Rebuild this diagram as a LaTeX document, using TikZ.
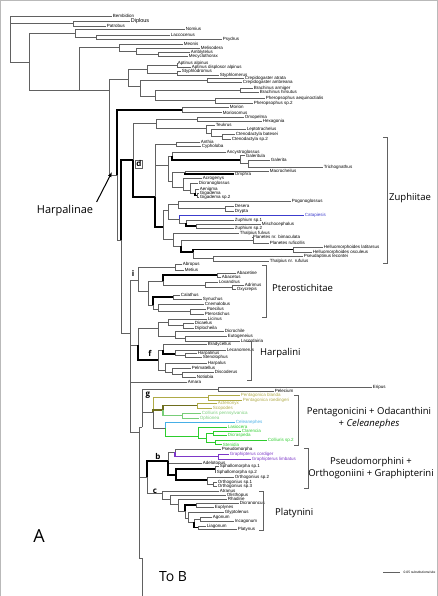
\documentclass[tikz,border=0pt]{standalone}
\usepackage{fontspec}
\setmainfont{Liberation Sans}
\newfontfamily\labfont{Open Sans}
\usetikzlibrary{arrows.meta}

\definecolor{brgray}{gray}{0.38}
\definecolor{olv}{RGB}{175,170,70}
\definecolor{dolv}{RGB}{110,110,30}
\definecolor{lgr}{RGB}{120,205,120}
\definecolor{cyn}{RGB}{70,175,230}
\definecolor{grn}{RGB}{45,205,45}
\definecolor{prp}{RGB}{125,55,200}
\definecolor{blu}{RGB}{60,60,205}

\newcommand\leaf{\fontsize{4.5}{5}\selectfont}

\begin{document}
\begin{tikzpicture}[x=1pt,y=-1pt,
  tx/.style={anchor=west,inner sep=0.7pt,font=\leaf},
  br/.style={draw=brgray,line width=0.7pt,to path={|- (\tikztotarget)}},
  bk/.style={draw=black,line width=1.5pt},
  ol/.style={draw=olv},
  dol/.style={draw=dolv,line width=1.3pt},
  lg/.style={draw=lgr,line width=1.2pt},
  cy/.style={draw=cyn},
  gr/.style={draw=grn},
  pp/.style={draw=prp,line width=1.4pt},
  bl/.style={draw=blu},
  brk/.style={draw=brgray,line width=0.6pt},
  grp/.style={anchor=west,inner sep=0pt,font=\labfont\fontsize{9.5}{12}\selectfont},
  cld/.style={inner sep=0.8pt,font=\labfont\bfseries\fontsize{8}{9}\selectfont}]
\useasboundingbox (0,0) rectangle (438,596);
\draw[gray!55,line width=1pt] (0.5,596) -- (0.5,0.5) -- (437.5,0.5) -- (437.5,596);

% leaves, top group
\node[tx] (bembidion) at (112,16) {Bembidion};
\node[tx,font=\fontsize{5.5}{6}\selectfont] (diplous) at (130,21) {Diplous};
\node[tx] (patrobus) at (106,26) {Patrobus};
\node[tx] (nomius) at (185,29) {Nomius};
\node[tx] (laccocenus) at (170,35) {Laccocenus};
\node[tx] (psydrus) at (222,39) {Psydrus};
\node[tx] (meonis) at (183,44) {Meonis};
\node[tx] (melisodera) at (200,48) {Melisodera};
\node[tx] (amblytelus) at (190,52) {Amblytelus};
\node[tx] (mecyclo) at (188,56) {Mecyclothorax};
\node[tx] (aptalp) at (177,63) {Aptinus alpinus};
\node[tx] (aptdis) at (191,67) {Aptinus displosor alpinus};
\node[tx] (styphlod) at (181,71) {Styphlodromus};
\node[tx] (styphlom) at (219,75) {Styphlomerus};
\node[tx] (crepatr) at (244,78) {Crepidogaster atrata};
\node[tx] (crepamb) at (242,82) {Crepidogaster ambreana};
\node[tx] (bracharm) at (253,88) {Brachinus armiger};
\node[tx] (brachhir) at (259,92) {Brachinus hirsutus};
\node[tx] (pheraeq) at (265,98) {Pheropsophus aequinoctialis};
\node[tx] (phersp) at (253,103) {Pheropsophus sp.2};

% leaves, Harpalinae top
\node[tx] (morion) at (229,107) {Morion};
\node[tx] (moriosomus) at (222,112.5) {Moriosomus};
\node[tx] (omopelma) at (244,117) {Omopelma};
\node[tx] (hexagonia) at (262,121) {Hexagonia};
\node[tx] (teukrus) at (215,125) {Teukrus};
\node[tx] (leptotr) at (246,129) {Leptotrachelus};
\node[tx] (ctenbat) at (235,134) {Ctenodactyla batesei};
\node[tx] (ctensp) at (231,139) {Ctenodactyla sp.2};

% leaves, Zuphiitae
\node[tx] (anthia) at (200,142) {Anthia};
\node[tx] (cypholoba) at (201,146) {Cypholoba};
\node[tx] (ancystro) at (226,152) {Ancystroglossus};
\node[tx] (galeritula) at (245,155.5) {Galeritula};
\node[tx] (galerita) at (270,160) {Galerita};
\node[tx] (trichog) at (323,167) {Trichognathus};
\node[tx] (macroch) at (269,171) {Macrocheilus};
\node[tx] (omphra) at (234,174) {Omphra};
\node[tx] (acrogenys) at (202,178) {Acrogenys};
\node[tx] (dicrano) at (198,183) {Dicranoglossus};
\node[tx] (aenigma) at (199,189) {Aenigma};
\node[tx] (gigadema) at (199,193.5) {Gigadema};
\node[tx] (gigsp) at (199,197.5) {Gigadema sp.2};
\node[tx] (pogono) at (291,201) {Pogonoglossus};
\node[tx] (desera) at (234,206) {Desera};
\node[tx] (drypta) at (234,211) {Drypta};
\node[tx,text=blu] (catapiesis) at (304,215) {Catapiesis};
\node[tx] (zuph1) at (234,220) {Zuphium sp.1};
\node[tx] (mischo) at (261,224) {Mischocephalus};
\node[tx] (zuph2) at (234,228) {Zuphium sp.2};
\node[tx] (thalful) at (239,233) {Thalpius fulvus};
\node[tx] (planbim) at (252,237) {Planetes nr. bimaculata};
\node[tx] (planruf) at (269,243) {Planetes ruficollis};
\node[tx] (hellat) at (323,247) {Helluomorphoides latitarsus};
\node[tx] (helocu) at (312,252) {Helluomorphoides osculeus};
\node[tx] (pseudapt) at (303,256) {Pseudaptinus lecontei};
\node[tx] (thalruf) at (269,261) {Thalpius nr. rufulus};

% leaves, Pterostichitae
\node[tx] (abropus) at (182,264) {Abropus};
\node[tx] (metius) at (184,270) {Metius};
\node[tx] (abacetine) at (236,273) {Abacetine};
\node[tx] (abacetus) at (221,277) {Abacetus};
\node[tx] (loxandrus) at (218,282) {Loxandrus};
\node[tx] (adrimus) at (244,285) {Adrimus};
\node[tx] (oxycrepis) at (236,289) {Oxycrepis};
\node[tx] (calathus) at (180,295) {Calathus};
\node[tx] (synuchus) at (202,299) {Synuchus};
\node[tx] (cnemalobus) at (204,304) {Cnemalobus};
\node[tx] (poecilus) at (206,309) {Poecilus};
\node[tx] (pterost) at (204,314) {Pterostichus};

% leaves, Licinini and Harpalini
\node[tx] (licinus) at (207,319) {Licinus};
\node[tx] (dicaelus) at (194,323) {Dicaelus};
\node[tx] (diplocheila) at (194,328) {Diplocheila};
\node[tx] (dicrochile) at (224,331) {Dicrochile};
\node[tx] (eutog) at (227,336) {Eutogeneius};
\node[tx] (lacord) at (240,341) {Lacordairia};
\node[tx] (bradyc) at (207,344) {Bradycellus};
\node[tx] (lecanom) at (226,350) {Lecanomerus};
\node[tx] (harpalinus) at (197,353) {Harpalinus};
\node[tx] (stenol) at (202,357) {Stenolophus};
\node[tx] (harpalus) at (207,363) {Harpalus};
\node[tx] (pelmat) at (191,368) {Pelmatellus};
\node[tx] (discod) at (214,372) {Discoderus};
\node[tx] (notiobia) at (196,377) {Notiobia};
\node[tx] (amara) at (187,382) {Amara};

% leaves, lower part
\node[tx] (eripus) at (372,387.5) {Eripus};
\node[tx] (pelecium) at (274,391) {Pelecium};
\node[tx,text=olv] (pentbl) at (240,395) {Pentagonica blanda};
\node[tx,text=olv] (pentro) at (242,400) {Pentagonica roedingeri};
\node[tx,text=olv] (actenonyx) at (217,403.5) {Actenonyx};
\node[tx,text=olv] (scopodes) at (212,408) {Scopodes};
\node[tx,text=lgr] (collpen) at (201,413) {Colliuris pennsylvanica};
\node[tx,text=lgr] (ophionea) at (199,418) {Ophionea};
\node[tx,text=cyn] (celeanephes) at (235,422) {Celeanephes};
\node[tx,text=grn] (lasiocera) at (227,427) {Lasiocera};
\node[tx,text=grn] (clarencia) at (241,431) {Clarencia};
\node[tx,text=grn] (dicraspeda) at (227,435.5) {Dicraspeda};
\node[tx,text=grn] (collsp) at (267,440) {Colliuris sp.2};
\node[tx,text=grn] (stenidia) at (222,444.5) {Stenidia};
\node[tx] (pseudomorpha) at (221,449) {Pseudomorpha};
\node[tx,text=prp] (graphcor) at (229,454) {Graphipterus cordiger};
\node[tx,text=prp] (graphlim) at (251,459) {Graphipterus limbatus};
\node[tx] (adelotopus) at (202,463) {Adelotopus};
\node[tx] (sphal1) at (219,466.5) {Sphallomorpha sp.1};
\node[tx] (sphal2) at (216,472) {Sphallomorpha sp.2};
\node[tx] (orth2) at (234,477) {Orthogonius sp.2};
\node[tx] (orth1) at (217,482) {Orthogonius sp.1};
\node[tx] (orth3) at (217,486) {Orthogonius sp.3};
\node[tx] (atranus) at (219,491) {Atranus};
\node[tx] (olisth) at (226,495) {Olisthopus};
\node[tx] (rhadine) at (227,499) {Rhadine};
\node[tx] (dicranon) at (239,503) {Dicranoncus};
\node[tx] (euplynes) at (214,507) {Euplynes};
\node[tx] (glyptol) at (224,512) {Glyptolenus};
\node[tx] (agonum) at (212,517) {Agonum};
\node[tx] (incagonum) at (234,521) {Incagonum};
\node[tx] (liagonum) at (206,526) {Liagonum};
\node[tx] (platynus) at (237,529) {Platynus};

% internal nodes
\coordinate (r0) at (10,40);
\coordinate (nDP) at (73,23.5);
\coordinate (n1) at (29,62);
\coordinate (nNL) at (75,33);
\coordinate (nLP) at (96,37);
\coordinate (n2) at (79,90);
\coordinate (nMe) at (119,47);
\coordinate (nMe2) at (136,51);
\coordinate (nMe3) at (158,54);
\coordinate (n3) at (109,90);
\coordinate (nBr) at (128,79);
\coordinate (nAp) at (147,69);
\coordinate (nA1) at (177,65);
\coordinate (nSt) at (177,73);
\coordinate (nCr) at (140,86);
\coordinate (nCrep) at (207,80);
\coordinate (nBP) at (155,96);
\coordinate (nBrach) at (240,90);
\coordinate (nPh) at (215,100.5);
\coordinate (nH) at (117,175);
\coordinate (nMor) at (182,110);
\coordinate (nH1) at (121,240);
\coordinate (nD) at (133,160);
\coordinate (nHC) at (156,123);
\coordinate (nHx) at (197,119);
\coordinate (nTC) at (206,128);
\coordinate (nLC) at (211,133);
\coordinate (nCt) at (222,136.5);
\coordinate (nZu) at (155,197);
\coordinate (nAnth) at (176,144);
\coordinate (nZa) at (168,165);
\coordinate (nGal0) at (172,156);
\coordinate (nGal1) at (240,160);
\coordinate (nGal2) at (248,163.5);
\coordinate (nHel) at (172,181);
\coordinate (nMO) at (185,172.5);
\coordinate (nHe2) at (183,187);
\coordinate (nHe3) at (190,190);
\coordinate (nHe4) at (195,193);
\coordinate (nHe5) at (197,195.5);
\coordinate (nZL) at (163,227);
\coordinate (nPC) at (168,210);
\coordinate (nPD) at (178,204);
\coordinate (nDD) at (225,208.5);
\coordinate (nCz) at (179,219);
\coordinate (nZ1) at (186,223);
\coordinate (nZ2) at (196,226);
\coordinate (nT) at (173,239);
\coordinate (nPL) at (181,246);
\coordinate (nPlan) at (253,240);
\coordinate (nHP) at (193,252);
\coordinate (nHm) at (293,249.5);
\coordinate (nPT) at (213,258.5);
\coordinate (N130) at (130,333);
\coordinate (ni) at (138,280);
\coordinate (nAM) at (175,267);
\coordinate (nPt) at (148,291);
\coordinate (nAb) at (163,281);
\coordinate (nAb1) at (217,275);
\coordinate (nLO) at (205,285);
\coordinate (nAO) at (232,287);
\coordinate (nCS) at (153,305);
\coordinate (nCal) at (173,297);
\coordinate (nCP) at (158,309);
\coordinate (nPP) at (190,311.5);
\coordinate (nLF) at (138,345);
\coordinate (nLD) at (158,328);
\coordinate (nLic) at (168,322);
\coordinate (nDD2) at (183,325.5);
\coordinate (nDE) at (175,336);
\coordinate (nEL) at (185,338.5);
\coordinate (nF) at (158,360);
\coordinate (nF1) at (163,350);
\coordinate (nF1a) at (175,354);
\coordinate (nHS) at (185,355);
\coordinate (nF2) at (165,370);
\coordinate (nF2a) at (172,372);
\coordinate (nDN) at (182,374.5);
\coordinate (N139) at (139,432);
\coordinate (N142) at (142,427);
\coordinate (nPel) at (218,389);
\coordinate (ng) at (153,412);
\coordinate (nPent) at (208,397.5);
\coordinate (nAS) at (163,410);
\coordinate (nActS) at (197,405.5);
\coordinate (nCO) at (182,415.5);
\coordinate (nGr1) at (165,428);
\coordinate (nGr2) at (198,436);
\coordinate (nGr3) at (206,438);
\coordinate (nGr4) at (213,433.5);
\coordinate (nGr5) at (215,442.5);
\coordinate (nbc) at (147,477);
\coordinate (nb) at (168,461);
\coordinate (nPM) at (175,452);
\coordinate (nPG) at (218,456.5);
\coordinate (nSO) at (176,475);
\coordinate (nSp) at (215,469);
\coordinate (nOr) at (207,480);
\coordinate (nO13) at (213,484);
\coordinate (nc) at (162,493);
\coordinate (c2) at (170,499);
\coordinate (c3) at (178,504);
\coordinate (c4) at (185,511);
\coordinate (c5) at (196,505);
\coordinate (c6) at (188,518);
\coordinate (c7) at (194,522);
\coordinate (c8) at (200,519);
\coordinate (c9) at (198,527.5);
\coordinate (toB) at (142,558);
\coordinate (toBend) at (142,596);

% branches
\path[br] (r0) edge (bembidion.west) edge (nDP) edge (n1);
\path[br] (nDP) edge (diplous.west) edge (patrobus.west);
\path[br] (n1) edge (nNL) edge (n2);
\path[br] (nNL) edge (nomius.west) edge (nLP);
\path[br] (nLP) edge (laccocenus.west) edge (psydrus.west);
\path[br] (n2) edge (nMe) edge (n3);
\path[br] (nMe) edge (meonis.west) edge (nMe2);
\path[br] (nMe2) edge (melisodera.west) edge (nMe3);
\path[br] (nMe3) edge (amblytelus.west) edge (mecyclo.west);
\path[br] (n3) edge (nBr) edge (nH);
\path[br] (nBr) edge (nAp) edge (nCr);
\path[br] (nAp) edge (nA1) edge (nSt);
\path[br] (nA1) edge (aptalp.west) edge (aptdis.west);
\path[br] (nSt) edge (styphlod.west) edge (styphlom.west);
\path[br] (nCr) edge (nCrep) edge (nBP);
\path[br] (nCrep) edge (crepatr.west) edge (crepamb.west);
\path[br] (nBP) edge (nBrach) edge (nPh);
\path[br] (nBrach) edge (bracharm.west) edge (brachhir.west);
\path[br] (nPh) edge (pheraeq.west) edge (phersp.west);
% Harpalinae
\path[br] (nH) edge[bk] (nMor) edge (nH1);
\path[br] (nMor) edge (morion.west) edge (moriosomus.west);
\path[br] (nH1) edge[bk] (nD) edge (N130);
\path[br] (nD) edge (nHC) edge[bk] (nZu);
\path[br] (nHC) edge (nHx) edge (nTC);
\path[br] (nHx) edge (omopelma.west) edge (hexagonia.west);
\path[br] (nTC) edge (teukrus.west) edge (nLC);
\path[br] (nLC) edge (leptotr.west) edge (nCt);
\path[br] (nCt) edge (ctenbat.west) edge (ctensp.west);
% Zuphiitae
\path[br] (nZu) edge (nAnth) edge (nZa) edge[bk] (nZL);
\path[br] (nAnth) edge (anthia.west) edge (cypholoba.west);
\path[br] (nZa) edge (nGal0) edge (nHel);
\path[br] (nGal0) edge (ancystro.west) edge[bk] (nGal1);
\path[br] (nGal1) edge (galeritula.west) edge (nGal2);
\path[br] (nGal2) edge (galerita.west) edge (trichog.west);
\path[br] (nHel) edge (nMO) edge (nHe2);
\path[br] (nMO) edge (macroch.west) edge[bk] (omphra.west);
\path[br] (nHe2) edge (acrogenys.west) edge (nHe3);
\path[br] (nHe3) edge (dicrano.west) edge (nHe4);
\path[br] (nHe4) edge (aenigma.west) edge[bk] (nHe5);
\path[br] (nHe5) edge (gigadema.west) edge (gigsp.west);
\path[br] (nZL) edge (nPC) edge (nT);
\path[br] (nPC) edge (nPD) edge (nCz);
\path[br] (nPD) edge (pogono.west) edge (nDD);
\path[br] (nDD) edge (desera.west) edge (drypta.west);
\path[br] (nCz) edge[bl] (catapiesis.west) edge (nZ1);
\path[br] (nZ1) edge (zuph1.west) edge[bk] (nZ2);
\path[br] (nZ2) edge (mischo.west) edge (zuph2.west);
\path[br] (nT) edge (thalful.west) edge (nPL);
\path[br] (nPL) edge (nPlan) edge[bk] (nHP);
\path[br] (nPlan) edge (planbim.west) edge (planruf.west);
\path[br] (nHP) edge[bk] (nHm) edge (nPT);
\path[br] (nHm) edge (hellat.west) edge (helocu.west);
\path[br] (nPT) edge (pseudapt.west) edge (thalruf.west);
% Pterostichitae
\path[br] (N130) edge (ni) edge (nLF) edge (amara.west) edge (N139);
\path[br] (ni) edge (nAM) edge (nPt);
\path[br] (nAM) edge (abropus.west) edge (metius.west);
\path[br] (nPt) edge (nAb) edge (nCS);
\path[br] (nAb) edge[bk] (nAb1) edge (nLO);
\path[br] (nAb1) edge (abacetine.west) edge (abacetus.west);
\path[br] (nLO) edge (loxandrus.west) edge (nAO);
\path[br] (nAO) edge (adrimus.west) edge (oxycrepis.west);
\path[br] (nCS) edge[bk] (nCal) edge (nCP);
\path[br] (nCal) edge (calathus.west) edge (synuchus.west);
\path[br] (nCP) edge (cnemalobus.west) edge (nPP);
\path[br] (nPP) edge (poecilus.west) edge (pterost.west);
% Licinini, Harpalini
\path[br] (nLF) edge (nLD) edge[bk] (nF);
\path[br] (nLD) edge (nLic) edge (nDE);
\path[br] (nLic) edge (licinus.west) edge (nDD2);
\path[br] (nDD2) edge (dicaelus.west) edge (diplocheila.west);
\path[br] (nDE) edge (dicrochile.west) edge (nEL);
\path[br] (nEL) edge (eutog.west) edge (lacord.west);
\path[br] (nF) edge (nF1) edge (nF2);
\path[br] (nF1) edge (bradyc.west) edge[bk] (nF1a);
\path[br] (nF1a) edge (lecanom.west) edge (nHS);
\path[br] (nHS) edge (harpalinus.west) edge (stenol.west);
\path[br] (nF2) edge (harpalus.west) edge (nF2a);
\path[br] (nF2a) edge (pelmat.west) edge (nDN);
\path[br] (nDN) edge (discod.west) edge (notiobia.west);
% lower part
\path[br] (N139) edge (N142) edge (nbc) edge (toB);
\path[br] (toB) edge (toBend);
\path[br] (N142) edge (nPel) edge (ng);
\path[br] (nPel) edge (eripus.west) edge (pelecium.west);
\path[br] (ng) edge[ol] (nPent) edge[dol] (nAS) edge (nGr1);
\path[br,draw=olv] (nPent) edge (pentbl.west) edge (pentro.west);
\path[br,dol] (nAS) edge (nActS) edge[lg] (nCO);
\path[br,draw=olv] (nActS) edge (actenonyx.west) edge (scopodes.west);
\path[br,draw=lgr] (nCO) edge (collpen.west) edge (ophionea.west);
\path[br,draw=grn] (nGr1) edge[cy] (celeanephes.west) edge (nGr2);
\path[br,draw=grn] (nGr2) edge (lasiocera.west) edge (nGr3);
\path[br,draw=grn] (nGr3) edge (nGr4) edge (nGr5);
\path[br,draw=grn] (nGr4) edge (clarencia.west) edge (dicraspeda.west);
\path[br,draw=grn] (nGr5) edge (collsp.west) edge (stenidia.west);
\path[br] (nbc) edge[bk] (nb) edge (nc);
\path[br] (nb) edge (nPM) edge (adelotopus.west) edge[bk] (nSO);
\path[br] (nPM) edge (pseudomorpha.west) edge[pp] (nPG);
\path[br,draw=prp] (nPG) edge (graphcor.west) edge (graphlim.west);
\path[br] (nSO) edge[bk] (nSp) edge[bk] (nOr);
\path[br] (nSp) edge (sphal1.west) edge (sphal2.west);
\path[br] (nOr) edge (orth2.west) edge (nO13);
\path[br] (nO13) edge (orth1.west) edge (orth3.west);
\path[br] (nc) edge (atranus.west) edge (c2);
\path[br] (c2) edge (olisth.west) edge (c3);
\path[br] (c3) edge (rhadine.west) edge (c4);
\path[br] (c4) edge[bk] (c5) edge (c6);
\path[br] (c5) edge (dicranon.west) edge (euplynes.west);
\path[br] (c6) edge (glyptol.west) edge (c7);
\path[br] (c7) edge (c8) edge[bk] (c9);
\path[br] (c8) edge (agonum.west) edge (incagonum.west);
\path[br] (c9) edge (liagonum.west) edge (platynus.west);

% clade letters
\node[cld,draw=brgray,fill=white] (dlab) at (139,164) {d};
\node[cld] (ilab) at (133,273) {i};
\node[cld] (flab) at (150,353) {f};
\node[cld] (glab) at (148,395) {g};
\node[cld] (blab) at (158,456) {b};
\node[cld] (clab) at (155,491) {c};

% brackets and group names
\draw[brk] (383,137) -- (387,137) -- (387,263) -- (383,263);
\node[grp] (zuph) at (389,198) {Zuphiitae};
\draw[brk] (262,265) -- (266,265) -- (266,317) -- (262,317);
\node[grp] (ptero) at (272,288) {Pterostichitae};
\draw[brk] (247,341) -- (251,341) -- (251,380) -- (247,380);
\node[grp] (harpini) at (260,353) {Harpalini};
\draw[brk] (294,395) -- (298,395) -- (298,445) -- (294,445);
\node[grp,anchor=center,align=center] (penta) at (369,418) {Pentagonicini + Odacanthini\\+ \textit{Celeanephes}};
\draw[brk] (304,448) -- (308,448) -- (308,488) -- (304,488);
\node[grp,anchor=center,align=center] (pseudo) at (371,468) {Pseudomorphini +\\Orthogoniini + Graphipterini};
\draw[brk] (259,491) -- (263,491) -- (263,530) -- (259,530);
\node[grp] (platy) at (275,513) {Platynini};

% Harpalinae arrow
\node[font=\labfont\fontsize{11}{13}\selectfont] (harplab) at (65,211) {Harpalinae};
\coordinate (harptip) at (112,172);
\draw[-{Latex[length=5pt,width=4pt]},line width=1pt] (harplab.north east) -- (harptip);

% panel letter, continuation, scale
\node[font=\labfont\fontsize{18}{20}\selectfont] (panel) at (39,536) {A};
\node[font=\labfont\fontsize{14}{16}\selectfont] (tob) at (173,577) {To B};
\coordinate (sc1) at (383,572);
\coordinate (sc2) at (400,572);
\draw[brgray,line width=0.7pt] (sc1) -- (sc2);
\node[anchor=west,inner sep=0.5pt,font=\fontsize{3.3}{4}\selectfont] (sclab) at (403,572) {0.05 substitutions/site};
\end{tikzpicture}
\end{document}
